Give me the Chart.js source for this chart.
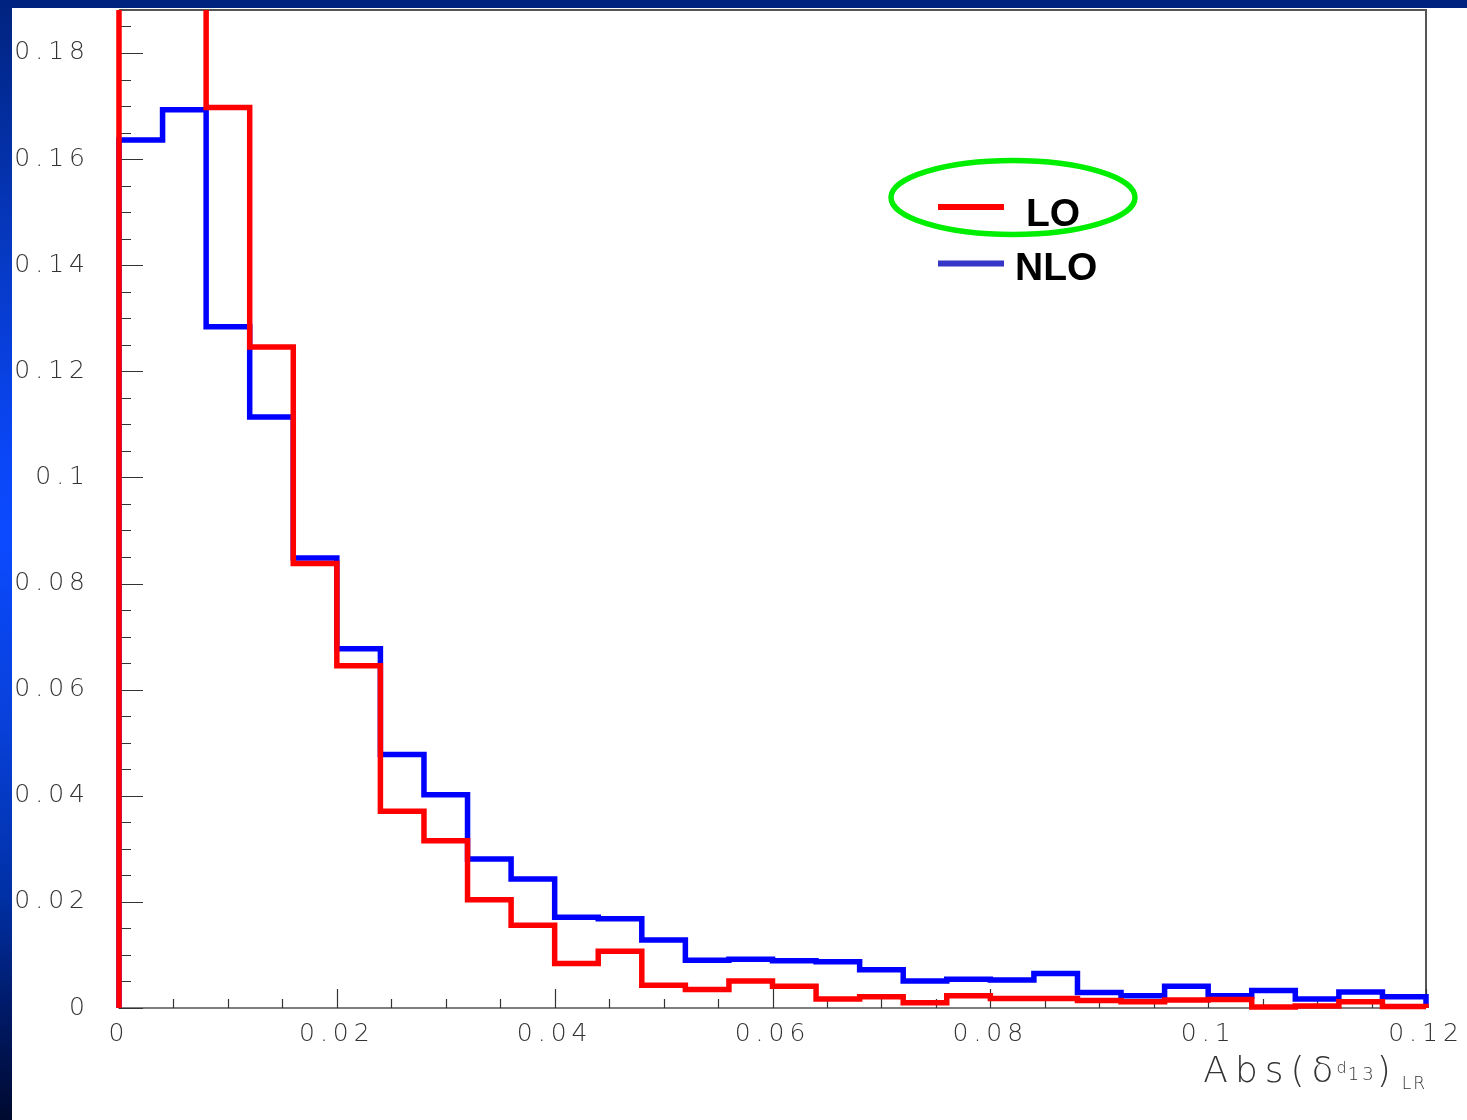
<!DOCTYPE html>
<html>
<head>
<meta charset="utf-8">
<script src="https://cdn.jsdelivr.net/npm/chart.js@4/dist/chart.umd.min.js"></script>
<style>
html,body{margin:0;padding:0;background:#fff;overflow:hidden}
#wrap{position:relative;width:1467px;height:1120px;background:#fff}
#topbar{position:absolute;left:0;top:0;width:1467px;height:8px;background:#00237f;z-index:0}
#leftbar{position:absolute;left:0;top:0;width:12px;height:1120px;z-index:0;
  background:linear-gradient(to bottom,#00237f 0%,#0535b5 18%,#0a46f5 40%,#0b4aff 48%,#0840d8 65%,#0030a5 80%,#001a68 90%,#000a30 100%)}
#c{position:absolute;left:0;top:0;z-index:1}
</style>
</head>
<body>
<div id="wrap">
  <div id="topbar"></div>
  <div id="leftbar"></div>
  <canvas id="c" width="1467" height="1120"></canvas>
</div>
<script>
// ---- data ----
const binLow = [0, 0.004, 0.008, 0.012, 0.016, 0.020, 0.024, 0.028, 0.032, 0.036,
                0.040, 0.044, 0.048, 0.052, 0.056, 0.060, 0.064, 0.068, 0.072, 0.076,
                0.080, 0.084, 0.088, 0.092, 0.096, 0.100, 0.104, 0.108, 0.112, 0.116];
const binHigh = 0.12;
const loValues = [0.245, 0.205, 0.1697, 0.1246, 0.0838, 0.0645, 0.0371, 0.0315, 0.0204, 0.0156,
                  0.0084, 0.0107, 0.0043, 0.0035, 0.0051, 0.0041, 0.0017, 0.0021, 0.0010, 0.0023,
                  0.0018, 0.0018, 0.0014, 0.0012, 0.0015, 0.0016, 0.0002, 0.0004, 0.0012, 0.0003];
const nloValues = [0.1636, 0.1693, 0.1284, 0.1114, 0.0848, 0.0677, 0.0478, 0.0402, 0.0281, 0.0243,
                   0.0171, 0.0168, 0.0128, 0.0090, 0.0092, 0.0089, 0.0087, 0.0072, 0.0051, 0.0054,
                   0.0053, 0.0065, 0.0029, 0.0023, 0.0041, 0.0023, 0.0033, 0.0017, 0.0030, 0.0021];
const seriesNames = ['LO', 'NLO'];
const xTickValues = [0, 0.02, 0.04, 0.06, 0.08, 0.1, 0.12];
const yTickValues = [0, 0.02, 0.04, 0.06, 0.08, 0.1, 0.12, 0.14, 0.16, 0.18];
const xMinorStep = 0.005;
const yMinorStep = 0.005;
const xMin = 0, xMax = 0.12, yMin = 0, yMax = 0.1881;
const xTitleParts = ['Abs(', 'δ', 'd', '13', ')', 'LR'];

// ---- helpers ----
function toSteps(values) {
  const pts = [{x: binLow[0], y: 0}];
  values.forEach((v, i) => pts.push({x: binLow[i], y: v}));
  pts.push({x: binHigh, y: values[values.length - 1]});
  pts.push({x: binHigh, y: 0});
  return pts;
}

const LABEL_FONT = "'DejaVu Sans'";

const framePlugin = {
  id: 'rootFrame',
  beforeDraw(chart) {
    chart.ctx.letterSpacing = '5px';
  },
  beforeDatasetsDraw(chart) {
    const {ctx, chartArea: a, scales: {x, y}} = chart;
    ctx.save();
    ctx.letterSpacing = '0px';
    ctx.strokeStyle = '#555';
    ctx.lineWidth = 2;
    ctx.beginPath();
    ctx.moveTo(a.left, a.top); ctx.lineTo(a.right, a.top); ctx.lineTo(a.right, a.bottom);
    ctx.stroke();
    ctx.strokeStyle = '#000';
    ctx.lineWidth = 1.2;
    ctx.beginPath();
    ctx.moveTo(a.left, a.top); ctx.lineTo(a.left, a.bottom); ctx.lineTo(a.right, a.bottom);
    ctx.stroke();
    ctx.strokeStyle = '#333';
    ctx.lineWidth = 1.2;
    ctx.beginPath();
    for (let k = 0; k * yMinorStep <= yMax + 1e-9; k++) {
      const v = k * yMinorStep;
      const major = (k % 4 === 0);
      const py = Math.round(y.getPixelForValue(v)) + 0.5;
      ctx.moveTo(a.left, py);
      ctx.lineTo(a.left + (major ? 24 : 12), py);
    }
    for (let k = 0; k * xMinorStep <= xMax + 1e-9; k++) {
      const v = k * xMinorStep;
      const major = (k % 4 === 0);
      const px = Math.round(x.getPixelForValue(v)) + 0.5;
      ctx.moveTo(px, a.bottom);
      ctx.lineTo(px, a.bottom - (major ? 19 : 9));
    }
    ctx.stroke();
    ctx.restore();
  },
  afterDraw(chart) {
    const {ctx, chartArea: a} = chart;
    ctx.save();
    // ---- legend ----
    ctx.letterSpacing = '0px';
    ctx.strokeStyle = '#00ee00';
    ctx.lineWidth = 5.5;
    ctx.beginPath();
    ctx.ellipse(1013, 197.5, 122, 37, 0, 0, Math.PI * 2);
    ctx.stroke();
    ctx.lineCap = 'butt';
    ctx.lineWidth = 6;
    ctx.strokeStyle = '#ff0000';
    ctx.beginPath(); ctx.moveTo(938, 207); ctx.lineTo(1004, 207); ctx.stroke();
    ctx.strokeStyle = '#3535c8';
    ctx.beginPath(); ctx.moveTo(938, 263.5); ctx.lineTo(1004, 263.5); ctx.stroke();
    ctx.fillStyle = '#000';
    ctx.textBaseline = 'alphabetic';
    ctx.textAlign = 'left';
    ctx.font = "bold 39px 'Liberation Sans'";
    ctx.fillText(seriesNames[0], 1026, 226);
    ctx.fillText(seriesNames[1], 1015, 280);

    // ---- x-axis title ----
    const base = 1082;
    const style = [
      {size: 36, dy: 0, ls: 7},
      {size: 36, dy: 0, ls: 3},
      {size: 16, dy: -9, ls: 1},
      {size: 18, dy: -2, ls: 3},
      {size: 36, dy: 0, ls: 11},
      {size: 17, dy: 7, ls: 2}
    ];
    ctx.fillStyle = '#333';
    let total = 0;
    const widths = xTitleParts.map((t, i) => {
      ctx.font = `200 ${style[i].size}px ${LABEL_FONT}`;
      ctx.letterSpacing = style[i].ls + 'px';
      const w = ctx.measureText(t).width;
      total += w;
      return w;
    });
    let cx = a.right + 1 - total;
    xTitleParts.forEach((t, i) => {
      ctx.font = `200 ${style[i].size}px ${LABEL_FONT}`;
      ctx.letterSpacing = style[i].ls + 'px';
      ctx.fillText(t, cx, base + style[i].dy);
      cx += widths[i];
    });
    ctx.restore();
  }
};

const commonDs = {
  stepped: 'before',
  pointRadius: 0,
  pointHoverRadius: 0,
  fill: false,
  borderWidth: 5.5,
  borderJoinStyle: 'miter',
  borderCapStyle: 'butt',
  clip: {left: 6, right: 6, top: 0, bottom: 6}
};

new Chart(document.getElementById('c'), {
  type: 'line',
  data: {
    datasets: [
      Object.assign({label: seriesNames[0], data: toSteps(loValues), borderColor: '#ff0000'}, commonDs),
      Object.assign({label: seriesNames[1], data: toSteps(nloValues), borderColor: '#0000ff'}, commonDs)
    ]
  },
  options: {
    responsive: false,
    animation: false,
    events: [],
    parsing: false,
    layout: {padding: {top: 10, right: 41, left: 0, bottom: 0}},
    plugins: {legend: {display: false}, tooltip: {enabled: false}},
    scales: {
      x: {
        type: 'linear', min: xMin, max: xMax,
        afterBuildTicks: s => { s.ticks = xTickValues.map(v => ({value: v})); },
        afterFit: s => { s.height = 112; s.paddingLeft = 0; s.paddingRight = 0; },
        grid: {display: false},
        border: {display: false},
        ticks: {
          padding: 3, color: '#333', autoSkip: false, maxRotation: 0, minRotation: 0,
          font: {family: LABEL_FONT, size: 25, weight: '200'},
          callback: v => String(v)
        }
      },
      y: {
        type: 'linear', min: yMin, max: yMax,
        afterBuildTicks: s => { s.ticks = yTickValues.map(v => ({value: v})); },
        afterFit: s => { s.width = 119; s.paddingTop = 0; s.paddingBottom = 0; },
        grid: {display: false},
        border: {display: false},
        ticks: {
          padding: 21, color: '#333', autoSkip: false,
          font: {family: LABEL_FONT, size: 25, weight: '200'},
          callback: v => String(v)
        }
      }
    }
  },
  plugins: [framePlugin]
});
</script>
</body>
</html>
